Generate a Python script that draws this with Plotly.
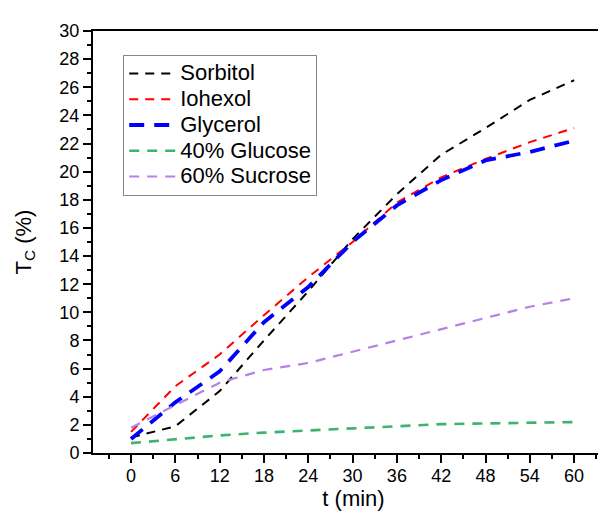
import plotly.graph_objects as go

t_min = [0, 6, 12, 18, 24, 30, 36, 42, 48, 54, 60]
sorbitol = [1.1, 1.9, 4.4, 8.0, 11.5, 15.2, 18.4, 21.2, 23.1, 25.1, 26.5]
iohexol = [1.5, 4.75, 7.0, 9.8, 12.5, 15.0, 17.8, 19.6, 20.9, 22.1, 23.1]
glycerol = [1.0, 3.6, 5.8, 9.3, 11.8, 15.0, 17.6, 19.4, 20.8, 21.4, 22.2]
glucose40 = [0.7, 1.0, 1.25, 1.45, 1.6, 1.8, 1.95, 2.05, 2.1, 2.15, 2.2]
sucrose60 = [1.8, 3.4, 5.0, 5.9, 6.4, 7.2, 8.0, 8.8, 9.6, 10.4, 11.0]

names = ["Sorbitol", "Iohexol", "Glycerol", "40% Glucose", "60% Sucrose"]
series = [sorbitol, iohexol, glycerol, glucose40, sucrose60]
colors = ["#000000", "#FF0000", "#0000FF", "#3CB371", "#B482E6"]
widths = [2, 2, 3.8, 2.6, 2.2]
dashes = ["9px,7px", "9px,7px", "15px,10px", "10px,8px", "10px,8px"]

fig = go.Figure()
for n, s, c, w, d in zip(names, series, colors, widths, dashes):
    fig.add_trace(go.Scatter(x=t_min, y=s, name="<span style='font-size:22px'>" + n + "</span>",
                             mode="lines", line=dict(color=c, width=w, dash=d)))

font = "Arial, Liberation Sans, sans-serif"
fig.update_layout(
    width=606, height=512,
    margin=dict(l=85, r=0, t=23, b=67),
    plot_bgcolor="white", paper_bgcolor="white",
    font=dict(family=font, size=18, color="black"),
    showlegend=True,
    legend=dict(x=0.058, y=0.944, xanchor="left", yanchor="top",
                bordercolor="#888888", borderwidth=1, bgcolor="white",
                font=dict(size=17.5), tracegroupgap=0, itemwidth=46),
    xaxis=dict(range=[-5.15, 65.4], tick0=0, dtick=6, showgrid=False, zeroline=False,
               showline=True, linecolor="black", linewidth=2, mirror=True,
               ticks="outside", ticklen=8, tickwidth=1.5, tickcolor="black",
               ticklabelstandoff=-3,
               minor=dict(dtick=3, tick0=0, ticks="outside", ticklen=4, tickcolor="black", showgrid=False),
               title=dict(text="t (min)", font=dict(size=22), standoff=0), automargin=False),
    yaxis=dict(range=[0, 30], tick0=0, dtick=2, showgrid=False, zeroline=False,
               showline=True, linecolor="black", linewidth=2,
               ticks="outside", ticklen=8, tickwidth=1.5, tickcolor="black",
               minor=dict(dtick=1, tick0=0, ticks="outside", ticklen=4, tickcolor="black", showgrid=False),
               title=dict(text="T<sub>C</sub> (%)", font=dict(size=22), standoff=22), automargin=False),
)
fig.write_html("out.html")
